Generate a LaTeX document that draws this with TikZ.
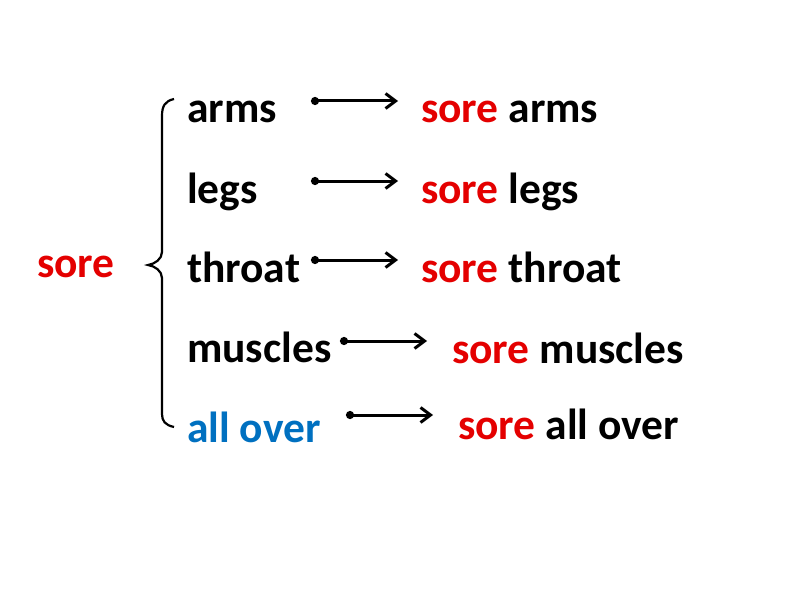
\documentclass[tikz,border=0pt]{standalone}
\usepackage{fontspec}
\setmainfont{Carlito}
\usetikzlibrary{arrows.meta}

\definecolor{sorered}{RGB}{228,0,0}
\definecolor{overblue}{RGB}{0,112,192}

\tikzset{
	word/.style={anchor=base west, inner sep=0pt, font=\fontsize{43.5}{52}\selectfont\bfseries},
	link/.style={line width=3pt, {Circle[length=8pt]}-{Straight Barb[length=10pt,width=15pt]}}
}

\begin{document}
\begin{tikzpicture}[x=1pt, y=-1pt]
	\useasboundingbox (0,0) rectangle (794,596);
	
	\node[word, text=sorered] (sore) at (37, 277) {sore};
	
	\node[word] (arms)    at (187, 123) {arms};
	\node[word] (legs)    at (187, 203) {legs};
	\node[word] (throat)  at (187, 282) {throat};
	\node[word] (muscles) at (187, 362) {muscles};
	\node[word, text=overblue] (allover) at (187, 442) {all over};
	
	\node[word] (sorearms)    at (421, 123) {\textcolor{sorered}{sore} arms};
	\node[word] (sorelegs)    at (421, 203) {\textcolor{sorered}{sore} legs};
	\node[word] (sorethroat)  at (421, 282) {\textcolor{sorered}{sore} throat};
	\node[word] (soremuscles) at (452, 363) {\textcolor{sorered}{sore} muscles};
	\node[word] (soreallover) at (458, 439) {\textcolor{sorered}{sore} all over};
	
	\coordinate (a1) at (311, 101);  \coordinate (b1) at (398, 101);
	\coordinate (a2) at (311, 181);  \coordinate (b2) at (398, 181);
	\coordinate (a3) at (311, 260);  \coordinate (b3) at (398, 260);
	\coordinate (a4) at (340, 341);  \coordinate (b4) at (427, 341);
	\coordinate (a5) at (346, 415);  \coordinate (b5) at (433, 415);
	
	\draw[link] (a1) -- (b1);
	\draw[link] (a2) -- (b2);
	\draw[link] (a3) -- (b3);
	\draw[link] (a4) -- (b4);
	\draw[link] (a5) -- (b5);
	
	% brace
	\draw[line width=2.2pt] (174, 99) .. controls (165, 101) and (162, 106) .. (162, 116)
		-- (162, 252) .. controls (162, 259) and (155, 264) .. (148, 265)
		.. controls (155, 266) and (162, 271) .. (162, 278)
		-- (162, 414) .. controls (162, 421) and (165, 425) .. (174, 427);

\end{tikzpicture}
\end{document}
